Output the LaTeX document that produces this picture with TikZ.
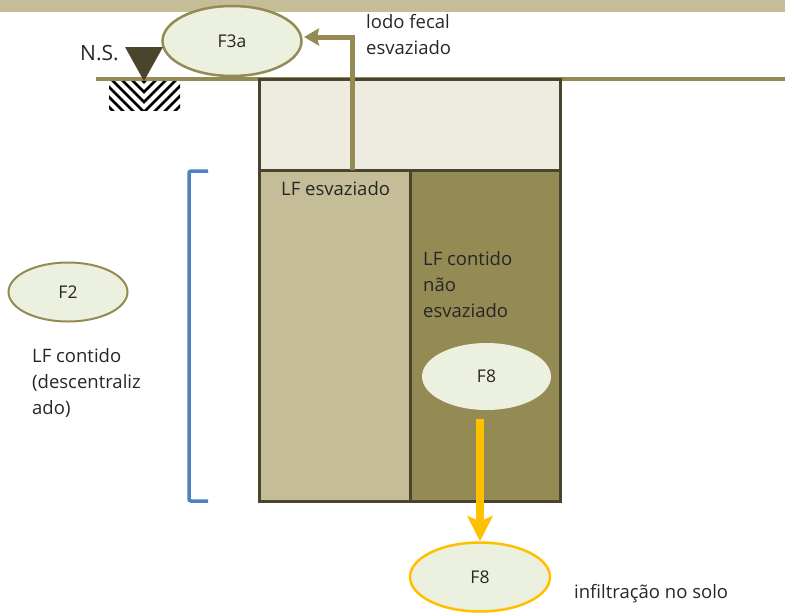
\documentclass[tikz,border=0pt]{standalone}
\usepackage{fontspec}
\setmainfont{Open Sans}
\usepackage{tikz}
\usetikzlibrary{arrows.meta,shapes.geometric}
\usetikzlibrary{positioning}
\definecolor{bandcol}{HTML}{C4BD97}
\definecolor{soilcol}{HTML}{948A54}
\definecolor{edgecol}{HTML}{4A452A}
\definecolor{topcol}{HTML}{EEECE1}
\definecolor{ovalcol}{HTML}{EBF1DE}
\definecolor{bluecol}{HTML}{4F81BD}
\definecolor{flowcol}{HTML}{FFC000}
\tikzset{
    tank/.style={
           rectangle,
           draw=edgecol, line width=3pt,
           inner sep=0pt, outer sep=0pt,
           minimum width=150pt,
           },
}
\tikzset{
    flow/.style={
           ellipse,
           fill=ovalcol,
           inner sep=0pt,
           text=black!85,
           font=\fontsize{17.5}{20}\selectfont,
           },
}
\tikzset{
    lbl/.style={
           align=left,
           inner sep=0pt,
           text=black!85,
           font=\fontsize{18.5}{26}\selectfont,
           },
}
\begin{document}
\begin{tikzpicture}[x=1pt,y=-1pt]
\useasboundingbox (0,0) rectangle (785,614);
\fill[bandcol] (0,0) rectangle (785,12);
\coordinate (GLl) at (96,79);
\coordinate (GLr) at (785,79);
\path (GLl) edge[-,soilcol,line width=4pt] (GLr);
\node[tank,fill=topcol,minimum width=301pt,minimum height=91pt,anchor=north west](Top) at (259.5,79){};
\node[tank,fill=bandcol,minimum width=150.5pt,minimum height=331pt,anchor=north west](LFe) at (259.5,170){};
\node[tank,fill=soilcol,minimum width=150.5pt,minimum height=331pt,right = 0pt of LFe](LFc){};
\node[flow,draw=soilcol,line width=2.5pt,minimum width=139pt,minimum height=70pt](F3a) at (232,41){F3a};
\node[flow,draw=soilcol,line width=2pt,minimum width=119pt,minimum height=59pt](F2) at (68,292){F2};
\node[flow,minimum width=129pt,minimum height=67pt](F8a) at (486.5,376.5){F8};
\node[flow,draw=flowcol,line width=2.5pt,minimum width=140pt,minimum height=69pt](F8b) at (480,577){F8};
\node[lbl,anchor=west,font=\fontsize{21}{24}\selectfont](NS) at (80,53){N.S.};
\node[lbl,anchor=west](lodo) at (366,35){lodo fecal\\esvaziado};
\node[lbl,anchor=west](LFet) at (281,189){LF esvaziado};
\node[lbl,anchor=north west](LFct) at (423,251.5){LF contido\\não\\esvaziado};
\node[lbl,anchor=north west](LFd) at (32,348.5){LF contido\\(descentraliz\\ado)};
\node[lbl,anchor=west](inf) at (574,594){infiltração no solo};
\coordinate (Ts) at (352,170);
\coordinate (Tt) at (304,37);
\draw[-{Stealth[length=15pt,width=17pt,inset=2pt]},soilcol,line width=5pt] (Ts) |- (Tt);
\coordinate (Fs) at (480,419);
\draw[-{Stealth[length=25pt,width=25pt,inset=5pt]},flowcol,line width=8.5pt] (Fs) -- (F8b.north);
\coordinate (Bt) at (208,171);
\coordinate (Bb) at (208,501);
\draw[bluecol,line width=3.5pt,rounded corners=2pt] (Bt) -| (189,501) -- (Bb);
\begin{scope}
\clip (109,81) rectangle (180,110);
\foreach \i in {0,...,7}
  \draw[black,line width=2.8pt] (144-40,82+\i*10-40) -- (144,82+\i*10) -- (144+40,82+\i*10-40);
\end{scope}
\fill[edgecol] (125,47) -- (163,47) -- (144,81) -- cycle;
\end{tikzpicture}
\end{document}
